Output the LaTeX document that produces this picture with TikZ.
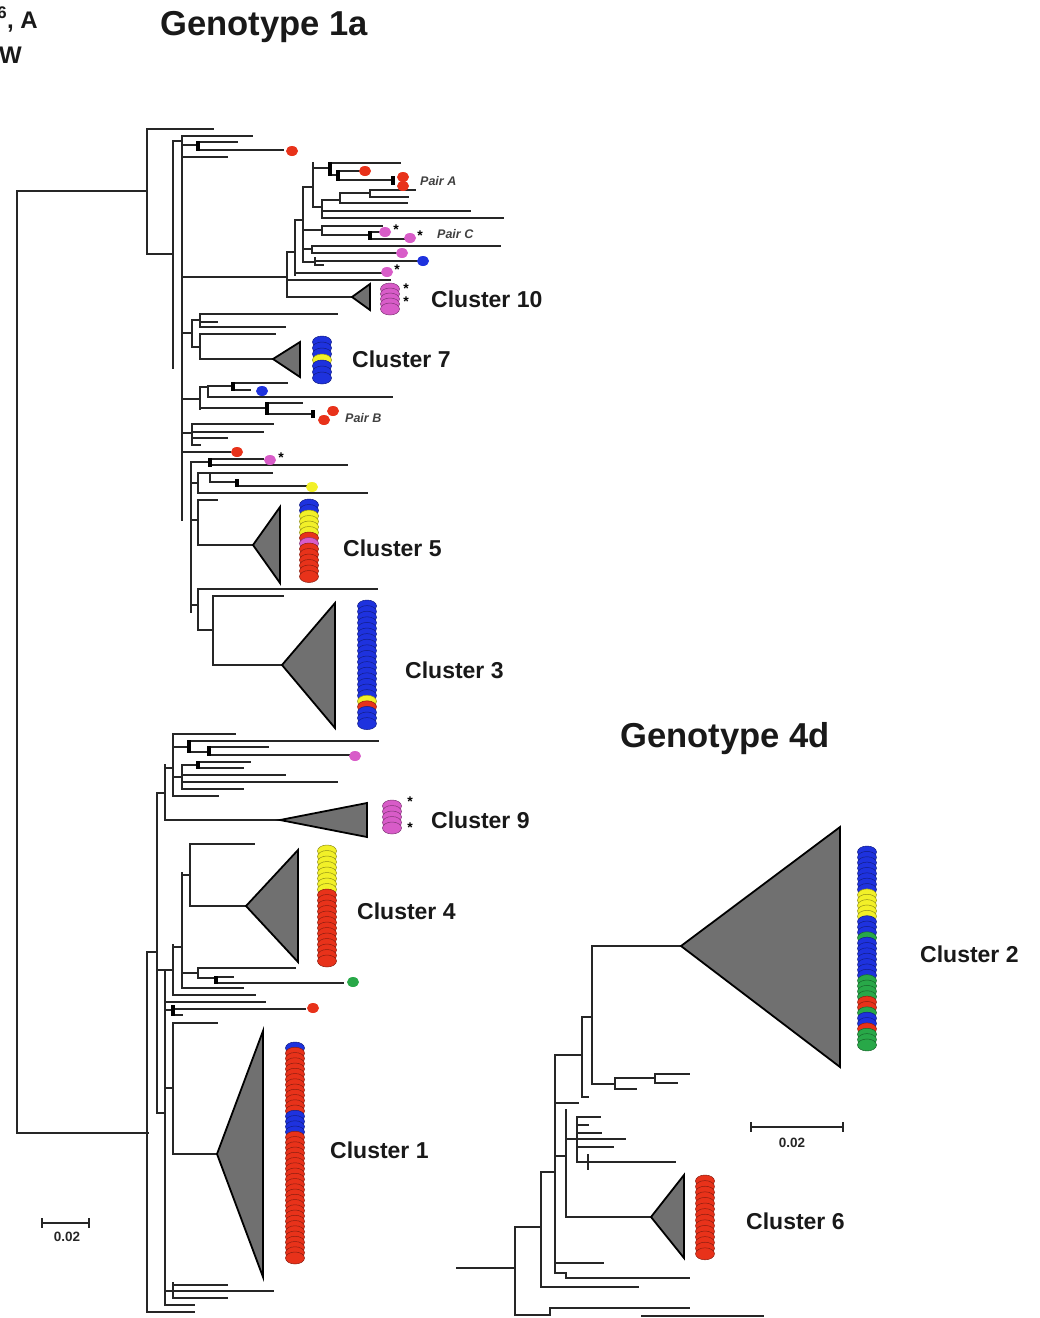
\documentclass[tikz,border=0pt]{standalone}
\usepackage{fontspec}
\setmainfont{Liberation Sans}
\definecolor{dred}{RGB}{232,50,26}
\definecolor{dblue}{RGB}{30,50,222}
\definecolor{dyel}{RGB}{242,240,40}
\definecolor{dpink}{RGB}{216,92,200}
\definecolor{dgreen}{RGB}{40,168,72}
\definecolor{clgray}{RGB}{112,112,112}

\newcommand{\dotcol}[4]{%
  \foreach \c [count=\i from 0] in {#4}
    \filldraw[disc=\c] (#1,{#2+\i*#3}) ellipse (9.5pt and 6pt);}
\newcommand{\leafdot}[3]{\fill[#3] (#1,#2) ellipse (6pt and 5pt);}

\begin{document}
\begin{tikzpicture}[x=1pt,y=-1pt,
  br/.style={black!85,line width=1.9pt,line cap=rect},
  spine/.style={black!85,line width=2.8pt,line cap=rect},
  knot/.style={black,line width=3.4pt},
  clade/.style={fill=clgray,draw=black,line width=1.8pt,line join=miter},
  disc/.style={draw=#1!60!black,fill=#1,line width=0.5pt},
  lab/.style={font=\fontsize{23}{26}\selectfont\bfseries,anchor=west,inner sep=0pt,text=black!90},
  pair/.style={font=\fontsize{12.5}{14}\selectfont\bfseries\itshape,anchor=west,inner sep=0pt,text=black!75},
  star/.style={font=\fontsize{14}{14}\selectfont\bfseries,inner sep=0pt},
  title/.style={font=\fontsize{34.6}{40}\selectfont\bfseries,anchor=base,inner sep=0pt,text=black!90},
  bar/.style={font=\fontsize{13.5}{15}\selectfont\bfseries,inner sep=0pt,text=black!85}]
  \useasboundingbox (0,0) rectangle (1040,1318);

  \node[title,anchor=base east,font=\fontsize{24}{26}\selectfont\bfseries] (cutA) at (38,28) {\textsuperscript{6}, A};
  \node[title,anchor=base east,font=\fontsize{24}{26}\selectfont\bfseries] (cutW) at (22,63) {W};
  \node[title] (g1a) at (264,35) {Genotype 1a};
  \node[title] (g4d) at (725,747) {Genotype 4d};

  % genotype 1a
  \draw[br] (147,191) -| (17,1133) -- (148,1133);
  \draw[br] (213,129) -| (147,254) -- (173,254);
  \draw[spine] (173,141) -- (173,368) (182,136) -- (182,520) (191,462) -- (191,612);
  \draw[br] (173,141) -- (182,141) (182,136) -- (252,136) (182,145) -- (198,145)
    (198,142) -- (237,142) (198,150) -- (283,150) (182,157) -- (227,157);
  \draw[knot] (198,141) -- (198,151);
  \leafdot{292}{151}{dred}

  \draw[br] (182,277) -- (287,277) (287,252) -- (287,297) -- (352,297)
    (295,220) -- (295,275) (303,187) -- (303,262) (313,163) -- (313,207)
    (287,252) -- (295,252) (287,280) -- (390,280)
    (295,220) -- (303,220) (295,273) -- (383,273)
    (303,187) -- (313,187) (303,230) -- (322,230) (303,249) -- (312,249) (303,262) -- (315,262)
    (313,168) -- (330,168) (313,207) -- (322,207)
    (330,163) -- (400,163) (330,175) -- (338,175) (338,171) -- (360,171) (338,180) -- (393,180)
    (322,200) -- (322,218) (322,200) -- (340,200) (340,193) -- (340,203) (340,193) -- (370,193)
    (370,190) -- (370,197) (370,190) -- (415,190) (370,197) -- (408,197) (340,203) -- (407,203)
    (322,211) -- (470,211) (322,218) -- (503,218)
    (322,226) -- (322,235) (322,226) -- (382,226) (322,235) -- (370,235)
    (370,232) -- (380,232) (370,239) -- (405,239)
    (312,246) -- (312,253) (312,246) -- (500,246) (312,253) -- (397,253)
    (315,258) -- (315,265) (315,261) -- (417,261) (315,265) -- (323,265);
  \draw[knot] (330,162) -- (330,176) (338,170) -- (338,181) (370,231) -- (370,240) (393,176) -- (393,185);
  \leafdot{365}{171}{dred}
  \leafdot{403}{177}{dred}
  \leafdot{403}{186}{dred}
  \leafdot{385}{232}{dpink}
  \leafdot{410}{238}{dpink}
  \leafdot{402}{253}{dpink}
  \leafdot{423}{261}{dblue}
  \leafdot{387}{272}{dpink}
  \node[star] (s1) at (396,230) {*};
  \node[star] (s2) at (420,236) {*};
  \node[star] (s3) at (397,270) {*};
  \node[pair] (pA) at (420,181) {Pair A};
  \node[pair] (pC) at (437,234) {Pair C};
  \draw[clade] (352,297) -- (370,284) -- (370,310) -- cycle;
  \dotcol{390}{289}{5}{dpink,dpink,dpink,dpink,dpink}
  \node[star] (s4) at (406,289) {*};
  \node[star] (s5) at (406,302) {*};
  \node[lab] (c10) at (431,299) {Cluster 10};

  \draw[br] (182,333) -- (192,333) (192,320) -- (192,347) (192,320) -- (200,320)
    (200,314) -- (200,327) (200,314) -- (337,314) (200,322) -- (217,322) (200,327) -- (285,327)
    (192,347) -- (200,347) (200,334) -- (200,359) (200,334) -- (275,334) (200,359) -- (273,359);
  \draw[clade] (273,359) -- (300,342) -- (300,377) -- cycle;
  \dotcol{322}{342}{6}{dblue,dblue,dblue,dyel,dblue,dblue,dblue}
  \node[lab] (c7) at (352,359) {Cluster 7};

  \draw[br] (182,399) -- (200,399) (200,387) -- (200,409) (200,387) -- (208,387)
    (208,386) -- (208,397) (208,386) -- (233,386) (233,383) -- (287,383) (233,390) -- (250,390)
    (208,397) -- (392,397) (200,408) -- (267,408) (267,403) -- (302,403) (267,414) -- (313,414);
  \draw[knot] (233,382) -- (233,391) (267,402) -- (267,415) (313,410) -- (313,418);
  \leafdot{262}{391}{dblue}
  \leafdot{333}{411}{dred}
  \leafdot{324}{420}{dred}
  \node[pair] (pB) at (345,418) {Pair B};

  \draw[br] (182,433) -- (192,433) (192,424) -- (192,445) (192,424) -- (273,424)
    (192,432) -- (263,432) (192,438) -- (227,438) (192,445) -- (200,445)
    (182,452) -- (230,452);
  \leafdot{237}{452}{dred}

  \draw[br] (191,462) -- (210,462) (210,459) -- (263,459) (210,465) -- (347,465)
    (191,483) -- (198,483) (198,473) -- (198,493) (198,473) -- (272,473)
    (210,473) -- (210,482) (210,482) -- (237,482) (237,486) -- (310,486) (198,493) -- (367,493);
  \draw[knot] (210,458) -- (210,467) (237,479) -- (237,487);
  \leafdot{270}{460}{dpink}
  \node[star] (s6) at (281,458) {*};
  \leafdot{312}{487}{dyel}

  \draw[br] (191,520) -- (198,520) (198,500) -- (198,545) (198,500) -- (217,500) (198,545) -- (253,545);
  \draw[clade] (253,545) -- (280,507) -- (280,583) -- cycle;
  \dotcol{309}{505}{5.5}{dblue,dblue,dyel,dyel,dyel,dyel,dred,dpink,dred,dred,dred,dred,dred,dred}
  \node[lab] (c5) at (343,548) {Cluster 5};

  \draw[br] (191,605) -- (198,605) (198,589) -- (198,630) (198,589) -- (377,589) (198,630) -- (213,630)
    (213,596) -- (213,665) (213,596) -- (283,596) (213,665) -- (282,665);
  \draw[clade] (282,665) -- (335,603) -- (335,728) -- cycle;
  \dotcol{367}{606}{5.6}{dblue,dblue,dblue,dblue,dblue,dblue,dblue,dblue,dblue,dblue,dblue,dblue,dblue,dblue,dblue,dblue,dblue,dyel,dred,dblue,dblue,dblue}
  \node[lab] (c3) at (405,670) {Cluster 3};

  \draw[br] (173,734) -- (173,796) (173,734) -- (235,734) (173,747) -- (189,747)
    (189,741) -- (378,741) (189,752) -- (209,752) (209,747) -- (268,747) (209,755) -- (350,755)
    (173,777) -- (182,777) (182,765) -- (182,789) (182,765) -- (198,765)
    (198,762) -- (250,762) (198,768) -- (243,768) (182,775) -- (285,775)
    (182,782) -- (337,782) (182,789) -- (243,789) (173,796) -- (218,796)
    (165,765) -- (165,820) (165,768) -- (173,768) (165,820) -- (280,820)
    (157,793) -- (157,1113) (157,793) -- (165,793);
  \draw[knot] (189,740) -- (189,753) (209,746) -- (209,756) (198,761) -- (198,769);
  \leafdot{355}{756}{dpink}
  \draw[clade] (280,820) -- (367,803) -- (367,837) -- cycle;
  \dotcol{392}{806}{5.5}{dpink,dpink,dpink,dpink,dpink}
  \node[star] (s7) at (410,802) {*};
  \node[star] (s8) at (410,828) {*};
  \node[lab] (c9) at (431,820) {Cluster 9};

  \draw[br] (182,875) -- (190,875) (190,844) -- (190,906) (190,844) -- (254,844) (190,906) -- (246,906);
  \draw[clade] (246,906) -- (298,850) -- (298,962) -- cycle;
  \dotcol{327}{851}{5.5}{dyel,dyel,dyel,dyel,dyel,dyel,dyel,dyel,dred,dred,dred,dred,dred,dred,dred,dred,dred,dred,dred,dred,dred}
  \node[lab] (c4) at (357,911) {Cluster 4};

  \draw[br] (182,873) -- (182,988) (173,947) -- (182,947) (173,945) -- (173,995)
    (182,973) -- (198,973) (198,968) -- (198,978) (198,968) -- (295,968) (198,978) -- (216,978)
    (216,977) -- (233,977) (216,983) -- (343,983) (182,988) -- (243,988) (173,995) -- (255,995)
    (147,952) -- (157,952) (157,970) -- (165,970) (165,970) -- (165,1305) (165,970) -- (173,970)
    (165,1002) -- (265,1002) (165,1010) -- (173,1010) (173,1009) -- (305,1009) (173,1015) -- (182,1015)
    (173,1023) -- (173,1154) (165,1088) -- (173,1088) (173,1023) -- (217,1023) (173,1154) -- (217,1154)
    (157,1113) -- (165,1113)
    (173,1283) -- (173,1298) (165,1291) -- (173,1291) (173,1285) -- (227,1285)
    (173,1291) -- (273,1291) (173,1298) -- (227,1298) (165,1305) -- (194,1305)
    (147,952) -- (147,1312) -- (194,1312);
  \draw[knot] (216,976) -- (216,984) (173,1005) -- (173,1016);
  \leafdot{353}{982}{dgreen}
  \leafdot{313}{1008}{dred}
  \draw[clade] (217,1154) -- (263,1031) -- (263,1277) -- cycle;
  \dotcol{295}{1048}{5.25}{dblue,dred,dred,dred,dred,dred,dred,dred,dred,dred,dred,dred,dred,dblue,dblue,dblue,dblue,dred,dred,dred,dred,dred,dred,dred,dred,dred,dred,dred,dred,dred,dred,dred,dred,dred,dred,dred,dred,dred,dred,dred,dred}
  \node[lab] (c1) at (330,1150) {Cluster 1};

  \draw[br] (42,1219) -- (42,1227) (42,1223) -- (89,1223) (89,1219) -- (89,1227);
  \node[bar] (sc1) at (67,1237) {0.02};

  % genotype 4d
  \draw[br] (592,946) -- (681,946) (592,946) -- (592,1084) (582,1017) -- (592,1017)
    (592,1084) -- (615,1084) (615,1078) -- (615,1089) (615,1078) -- (655,1078)
    (655,1074) -- (655,1083) (655,1074) -- (689,1074) (655,1083) -- (677,1083) (615,1089) -- (636,1089)
    (582,1017) -- (582,1097) (582,1097) -- (588,1097) (555,1055) -- (582,1055)
    (555,1055) -- (555,1273) (555,1103) -- (578,1103) (555,1156) -- (566,1156)
    (566,1110) -- (566,1217) (566,1139) -- (625,1139) (577,1117) -- (577,1162)
    (577,1117) -- (600,1117) (577,1125) -- (588,1125) (577,1133) -- (601,1133) (577,1147) -- (613,1147)
    (588,1155) -- (588,1169) (577,1162) -- (675,1162)
    (566,1217) -- (651,1217) (555,1263) -- (603,1263) (555,1273) -- (566,1273)
    (566,1273) -- (566,1278) (566,1278) -- (689,1278)
    (541,1172) -- (555,1172) (541,1172) -- (541,1287) (541,1287) -- (638,1287)
    (515,1227) -- (541,1227) (515,1227) -- (515,1315)
    (550,1308) -- (550,1315) (550,1308) -- (689,1308) (515,1315) -- (550,1315) (642,1316) -- (763,1316);
  \draw[spine] (457,1268) -- (515,1268);
  \draw[clade] (681,946) -- (840,827) -- (840,1067) -- cycle;
  \dotcol{867}{852}{5.36}{dblue,dblue,dblue,dblue,dblue,dblue,dblue,dblue,dyel,dyel,dyel,dyel,dyel,dblue,dblue,dblue,dgreen,dblue,dblue,dblue,dblue,dblue,dblue,dblue,dgreen,dgreen,dgreen,dgreen,dred,dred,dgreen,dblue,dblue,dred,dgreen,dgreen,dgreen}
  \node[lab] (c2) at (920,954) {Cluster 2};
  \draw[clade] (651,1217) -- (684,1175) -- (684,1258) -- cycle;
  \dotcol{705}{1181}{5.6}{dred,dred,dred,dred,dred,dred,dred,dred,dred,dred,dred,dred,dred,dred}
  \node[lab] (c6) at (746,1221) {Cluster 6};

  \draw[br] (751,1123) -- (751,1131) (751,1127) -- (843,1127) (843,1123) -- (843,1131);
  \node[bar] (sc2) at (792,1143) {0.02};
\end{tikzpicture}
\end{document}
